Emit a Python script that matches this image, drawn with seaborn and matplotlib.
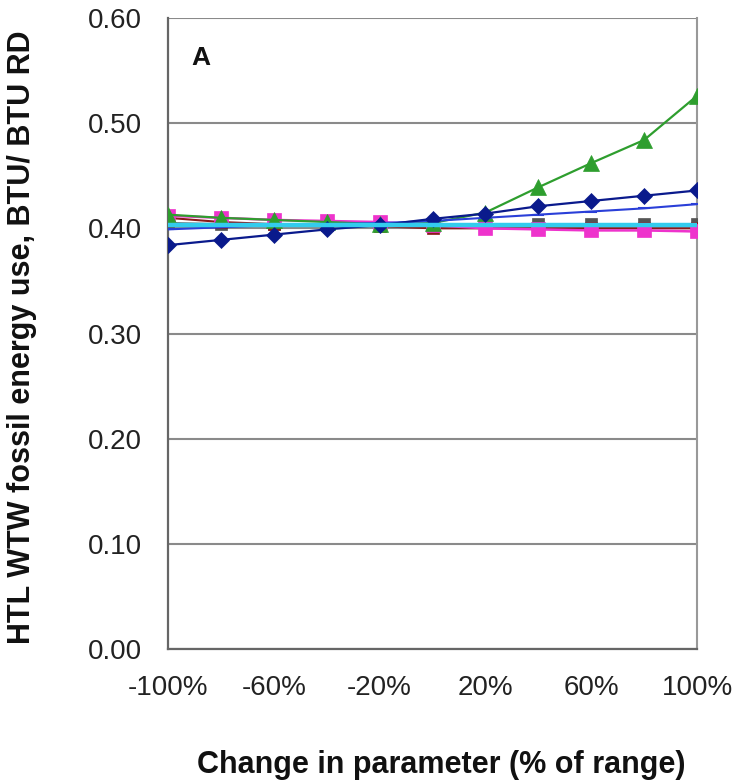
import matplotlib
matplotlib.use("Agg")
import matplotlib.pyplot as plt
import seaborn as sns
import pandas as pd
from matplotlib.ticker import FuncFormatter

sns.set_style("white")
plt.rcParams['font.family'] = ['Liberation Sans', 'DejaVu Sans']

change_pct = [-100, -80, -60, -40, -20, 0, 20, 40, 60, 80, 100]

green_tri = [0.413, 0.410, 0.408, 0.406, 0.404, 0.405, 0.415, 0.439, 0.462, 0.484, 0.526]
navy_diamond = [0.384, 0.389, 0.394, 0.399, 0.403, 0.409, 0.414, 0.421, 0.426, 0.431, 0.436]
blue_line = [0.399, 0.401, 0.403, 0.404, 0.405, 0.407, 0.410, 0.413, 0.416, 0.419, 0.423]
gray_square = [0.405, 0.404, 0.404, 0.404, 0.404, 0.404, 0.404, 0.404, 0.404, 0.404, 0.404]
darkred_line = [0.410, 0.406, 0.404, 0.403, 0.402, 0.400, 0.400, 0.400, 0.400, 0.400, 0.400]
magenta_square = [0.412, 0.410, 0.408, 0.407, 0.406, 0.403, 0.400, 0.399, 0.398, 0.398, 0.397]
cyan_line = [0.403] * 11

y_ticks = [0.0, 0.1, 0.2, 0.3, 0.4, 0.5, 0.6]
x_ticks = [-100, -60, -20, 20, 60, 100]

series = [
    ("Gray", gray_square, "#555555", "s", 8, 1.5),
    ("Dark red", darkred_line, "#8B1A1A", "s", 8, 1.5),
    ("Magenta", magenta_square, "#EE33CC", "s", 10, 1.8),
    ("Green", green_tri, "#2E9E2E", "^", 11, 1.6),
    ("Blue", blue_line, "#2A3FD8", "_", 8, 1.5),
    ("Navy", navy_diamond, "#0A1A8C", "D", 8, 1.6),
]

fig = plt.figure(figsize=(7.32, 7.82), dpi=100)
ax = fig.add_axes([168/732, 1-649/782, (697-168)/732, (649-18)/782])

for name, vals, col, mk, ms, lw in series:
    df = pd.DataFrame({"x": change_pct, "y": vals})
    sns.lineplot(data=df, x="x", y="y", ax=ax, color=col, marker=mk,
                 markersize=ms, linewidth=lw, markeredgecolor=col,
                 markeredgewidth=1.5 if mk == "_" else 0.5, zorder=3)

df_c = pd.DataFrame({"x": change_pct, "y": cyan_line})
sns.lineplot(data=df_c, x="x", y="y", ax=ax, color="#33CCEE", linewidth=3.2, zorder=4)

ax.set_xlim(-100, 100)
ax.set_ylim(0, 0.6)
ax.set_xticks(x_ticks)
ax.set_yticks(y_ticks)
ax.xaxis.set_major_formatter(FuncFormatter(lambda v, p: f"{int(round(v))}%"))
ax.yaxis.set_major_formatter(FuncFormatter(lambda v, p: f"{v:.2f}"))
ax.yaxis.grid(True, color="#8a8a8a", linewidth=1.5, zorder=0)
ax.set_axisbelow(True)

for s in ["left", "bottom"]:
    ax.spines[s].set_color("#666666")
    ax.spines[s].set_linewidth(1.6)
ax.spines["right"].set_color("#999999")
ax.spines["right"].set_linewidth(1.5)
ax.spines["top"].set_visible(False)

ax.tick_params(axis="both", which="major", direction="out", length=6, width=1.3,
               color="#666666", labelsize=20, labelcolor="#222222")
ax.tick_params(axis="x", pad=13)
ax.tick_params(axis="y", pad=13)

ax.set_xlabel("Change in parameter (% of range)", fontsize=22, fontweight="bold",
              color="#111111")
ax.set_ylabel("HTL WTW fossil energy use, BTU/ BTU RD", fontsize=22,
              fontweight="bold", color="#111111")
ax.xaxis.set_label_coords((441 - 168) / (697 - 168), -(750 - 649) / (649 - 18))
ax.yaxis.set_label_coords(-(168 - 37) / (697 - 168), (649 - 337) / (649 - 18))

ax.text(0.045, 0.937, "A", transform=ax.transAxes, fontsize=19, fontweight="bold",
        color="#111111", ha="left", va="center")

fig.savefig("out.png", dpi=100)
